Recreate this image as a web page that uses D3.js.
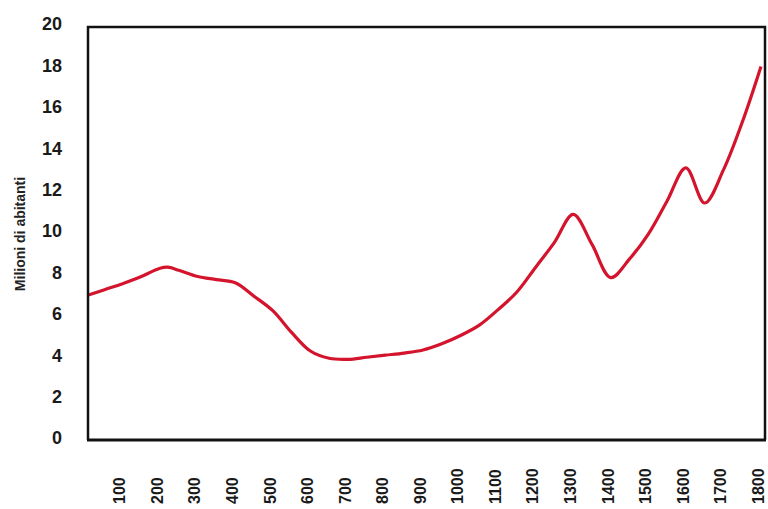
<!DOCTYPE html>
<html>
<head>
<meta charset="utf-8">
<script src="https://cdn.jsdelivr.net/npm/d3@7"></script>
<style>
  html, body { margin: 0; padding: 0; background: #ffffff; }
  svg { display: block; }
  text { font-family: "Liberation Sans", Arial, sans-serif; }
</style>
</head>
<body>
<script>
// ---- data ----
const years = [0, 50, 100, 130, 150, 200, 220, 250, 300, 350, 400, 450, 500, 550, 600, 650, 700, 750, 800, 850, 900, 950, 1000, 1050, 1100, 1150, 1200, 1250, 1300, 1350, 1400, 1450, 1500, 1550, 1600, 1650, 1700, 1750, 1800];
const population = [6.9, 7.2, 7.5, 7.7, 7.85, 8.25, 8.3, 8.15, 7.85, 7.7, 7.55, 6.9, 6.2, 5.15, 4.25, 3.9, 3.85, 3.95, 4.05, 4.15, 4.3, 4.6, 5.0, 5.5, 6.25, 7.1, 8.3, 9.5, 10.85, 9.4, 7.8, 8.7, 9.9, 11.5, 13.1, 11.4, 13.0, 15.3, 18.0];
const xTicks = [100, 200, 300, 400, 500, 600, 700, 800, 900, 1000, 1100, 1200, 1300, 1400, 1500, 1600, 1700, 1800];
const yTicks = [0, 2, 4, 6, 8, 10, 12, 14, 16, 18, 20];
const yTitle = "Milioni di abitanti";

const W = 768, H = 509;
const frame = { left: 88, right: 765, top: 27, bottom: 440 };

const svg = d3.select("body").append("svg").attr("width", W).attr("height", H);

const x = d3.scaleLinear().domain([0, 1800]).range([85, 761]);
const y = d3.scaleLinear().domain([0, 20]).range([439, 25]);

// clip for the line
svg.append("clipPath").attr("id", "clip")
  .append("rect")
  .attr("x", frame.left).attr("y", frame.top - 2)
  .attr("width", frame.right - frame.left + 1)
  .attr("height", frame.bottom - frame.top + 2);

// Y tick labels
svg.append("g").selectAll("text").data(yTicks).join("text")
  .attr("x", 62)
  .attr("y", d => y(d) - 1)
  .attr("dy", "0.35em")
  .attr("text-anchor", "end")
  .attr("font-size", 18)
  .attr("font-weight", "bold")
  .attr("fill", "#1a1a1a")
  .text(d => d);

// X tick labels (rotated)
svg.append("g").selectAll("text").data(xTicks).join("text")
  .attr("transform", d => `translate(${x(d) - 2},504) rotate(-90)`)
  .attr("dy", "0.3em")
  .attr("text-anchor", "start")
  .attr("font-size", 16)
  .attr("font-weight", "bold")
  .attr("fill", "#1a1a1a")
  .text(d => d);

// Y axis title
svg.append("text")
  .attr("transform", "translate(20,234) rotate(-90)")
  .attr("text-anchor", "middle")
  .attr("dy", "0.35em")
  .attr("font-size", 14)
  .attr("font-weight", "bold")
  .attr("fill", "#222")
  .text(yTitle);

// data line
const line = d3.line()
  .x((d, i) => x(years[i]))
  .y(d => y(d))
  .curve(d3.curveCatmullRom.alpha(0.5));

svg.append("path")
  .datum(population)
  .attr("clip-path", "url(#clip)")
  .attr("fill", "none")
  .attr("stroke", "#d3142c")
  .attr("stroke-width", 3.2)
  .attr("stroke-linejoin", "round")
  .attr("d", line);

// frame
svg.append("path")
  .attr("fill", "none")
  .attr("stroke", "#111")
  .attr("stroke-width", 2.5)
  .attr("d", `M${frame.left},${frame.bottom}V${frame.top}H${frame.right}V${frame.bottom}`);
svg.append("line")
  .attr("x1", frame.left - 1).attr("x2", frame.right + 1)
  .attr("y1", frame.bottom).attr("y2", frame.bottom)
  .attr("stroke", "#111").attr("stroke-width", 3.2);
</script>
</body>
</html>
